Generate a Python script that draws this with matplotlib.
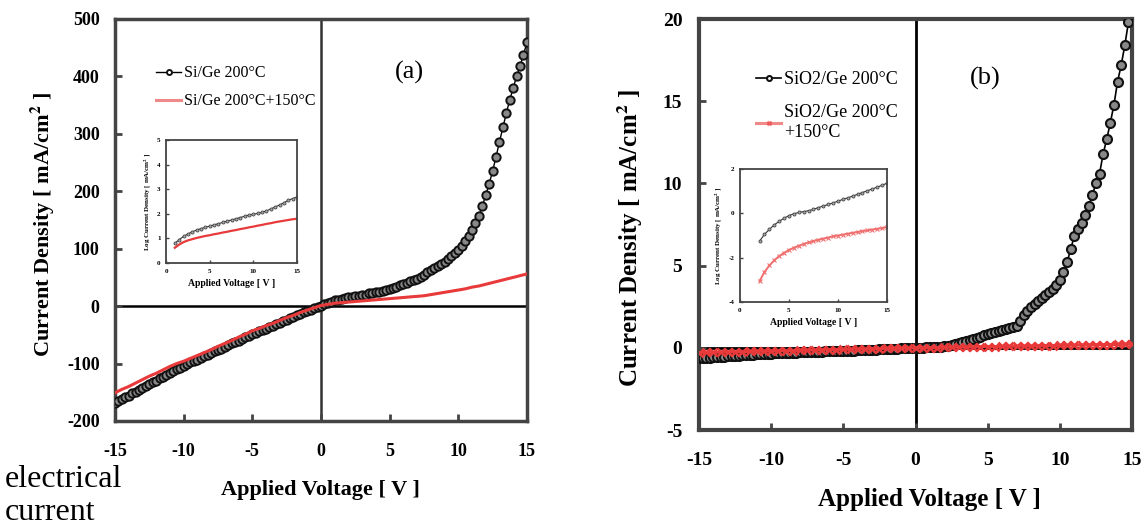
import numpy as np
import matplotlib
matplotlib.use("Agg")
import matplotlib.pyplot as plt

plt.rcParams["font.family"] = ["Liberation Serif", "DejaVu Serif"]
plt.rcParams["mathtext.fontset"] = "stix"
plt.rcParams["axes.unicode_minus"] = False

# ---- data ----
# black curves: -15 .. 15 V in 0.25 V steps, red curves: 0.5 V steps
voltage_fine = np.linspace(-15, 15, 121)
voltage = np.linspace(-15, 15, 61)

sige_200 = [-169, -166, -162, -159, -156, -152, -149, -146, -143, -139,
            -136, -133, -130, -126, -123, -120, -117, -113, -110, -107,
            -104, -101, -98, -96, -93, -90, -87, -85, -82, -79,
            -76, -74, -71, -68, -65, -63, -60, -57, -54, -52,
            -49, -46, -44, -41, -39, -36, -34, -31, -29, -26,
            -24, -21, -19, -16, -14, -11, -9, -6, -4, -1,
            1, 4, 6, 8, 10, 11, 13, 14, 15, 16,
            17, 18, 19, 20, 22, 23, 24, 25, 27, 28,
            30, 32, 34, 36, 38, 40, 43, 45, 48, 51,
            55, 59, 63, 66, 70, 73, 77, 82, 87, 92,
            98, 105, 113, 122, 133, 144, 157, 174, 193, 213,
            235, 260, 286, 311, 336, 359, 380, 400, 418, 438, 459]
sige_200_150 = [-151, -145, -140, -134, -128, -122, -117, -111, -105, -100,
                -96, -91, -86, -81, -76, -70, -65, -60, -54, -49,
                -43, -39, -34, -30, -25, -20, -16, -11, -7, -3,
                1, 3, 5, 6, 7, 8, 9, 10, 11, 12,
                13, 14, 15, 16, 17, 18, 20, 22, 24, 26,
                28, 30, 33, 35, 38, 41, 44, 47, 50, 53, 56]

sio2_200 = [-0.64, -0.62, -0.61, -0.59, -0.58, -0.56, -0.55, -0.53, -0.52, -0.50,
            -0.49, -0.47, -0.46, -0.44, -0.43, -0.41, -0.40, -0.38, -0.37, -0.36,
            -0.35, -0.34, -0.33, -0.32, -0.31, -0.30, -0.30, -0.29, -0.28, -0.27,
            -0.27, -0.26, -0.25, -0.24, -0.23, -0.22, -0.22, -0.21, -0.21, -0.20,
            -0.19, -0.18, -0.17, -0.16, -0.15, -0.14, -0.13, -0.12, -0.11, -0.10,
            -0.09, -0.08, -0.07, -0.06, -0.05, -0.04, -0.03, -0.02, -0.01, 0.00,
            0.00, 0.01, 0.02, 0.03, 0.04, 0.05, 0.07, 0.08, 0.10, 0.13,
            0.17, 0.22, 0.27, 0.33, 0.40, 0.46, 0.53, 0.60, 0.68, 0.76,
            0.84, 0.90, 0.97, 1.03, 1.10, 1.16, 1.22, 1.28, 1.35, 1.65,
            2.00, 2.25, 2.50, 2.68, 2.85, 3.02, 3.20, 3.40, 3.60, 3.85,
            4.10, 4.60, 5.20, 6.00, 6.80, 7.20, 7.60, 8.10, 8.60, 9.30,
            10.0, 10.6, 11.8, 12.7, 13.7, 14.8, 16.2, 17.2, 18.4, 19.8, 22.0]
sio2_200_150 = [-0.29, -0.28, -0.27, -0.26, -0.25, -0.24, -0.23, -0.22, -0.21, -0.20,
                -0.19, -0.18, -0.17, -0.16, -0.15, -0.14, -0.13, -0.12, -0.11, -0.10,
                -0.09, -0.08, -0.07, -0.06, -0.05, -0.04, -0.03, -0.03, -0.02, -0.01,
                0.00, 0.01, 0.02, 0.02, 0.03, 0.04, 0.05, 0.05, 0.06, 0.07,
                0.08, 0.08, 0.09, 0.10, 0.11, 0.11, 0.12, 0.13, 0.14, 0.14,
                0.15, 0.16, 0.17, 0.17, 0.18, 0.19, 0.20, 0.20, 0.21, 0.22, 0.23]

# inset (a): 1 .. 15 V, inset (b): 2 .. 15 V, 0.5 V steps
inset_a_v = np.linspace(1, 15, 29)
inset_a_black = [0.80, 0.95, 1.08, 1.18, 1.27, 1.34, 1.40, 1.45, 1.50, 1.55,
                 1.60, 1.65, 1.70, 1.75, 1.80, 1.85, 1.90, 1.95, 1.98, 2.02,
                 2.06, 2.12, 2.20, 2.28, 2.36, 2.45, 2.55, 2.62, 2.68]
inset_a_red = [0.62, 0.75, 0.85, 0.92, 0.97, 1.02, 1.06, 1.10, 1.13, 1.17,
               1.20, 1.24, 1.27, 1.31, 1.34, 1.38, 1.41, 1.45, 1.48, 1.52,
               1.55, 1.59, 1.62, 1.66, 1.69, 1.72, 1.75, 1.78, 1.80]

inset_b_v = np.linspace(2, 15, 27)
inset_b_black = [-1.25, -0.95, -0.72, -0.52, -0.36, -0.22, -0.10, -0.02, 0.04, 0.08,
                 0.12, 0.18, 0.26, 0.33, 0.40, 0.47, 0.55, 0.63, 0.70, 0.78,
                 0.86, 0.94, 1.02, 1.10, 1.18, 1.27, 1.36]
inset_b_red = [-3.05, -2.65, -2.35, -2.12, -1.93, -1.78, -1.65, -1.55, -1.46, -1.38,
               -1.31, -1.25, -1.19, -1.14, -1.09, -1.04, -1.00, -0.96, -0.92, -0.88,
               -0.84, -0.80, -0.77, -0.73, -0.70, -0.66, -0.62]

x_ticks = [-15, -10, -5, 0, 5, 10, 15]
y_ticks_a = [-200, -100, 0, 100, 200, 300, 400, 500]
y_ticks_b = [-5, 0, 5, 10, 15, 20]

RED = "#e83a3a"
SPINE = "#444444"
ylabel_text = "Current Density [ mA/cm$^{\\mathbf{2}}$ ]"


def style_main(ax, tick_size, xpad, ypad, spine_w):
    for s in ax.spines.values():
        s.set_color(SPINE)
        s.set_linewidth(spine_w)
    ax.tick_params(direction="in", length=5, width=2, color=SPINE,
                   labelsize=tick_size, top=False, right=False)
    ax.tick_params(axis="x", pad=xpad)
    ax.tick_params(axis="y", pad=ypad)
    for lab in ax.get_xticklabels() + ax.get_yticklabels():
        lab.set_fontweight("bold")


def style_inset(ax):
    for s in ax.spines.values():
        s.set_color(SPINE)
        s.set_linewidth(1.3)
    ax.tick_params(direction="in", length=2, width=1, color=SPINE,
                   labelsize=5, pad=4, top=False, right=False)
    for lab in ax.get_xticklabels() + ax.get_yticklabels():
        lab.set_fontweight("bold")


fig = plt.figure(figsize=(11.46, 5.29), dpi=100)

# ---------------- panel (a) ----------------
ax1 = fig.add_axes([0.1003, 0.2042, 0.3595, 0.760])
ax1.axhline(0, color="black", lw=1.8, zorder=1)
ax1.axvline(0, color="#333333", lw=1.8, zorder=1)
ax1.plot(voltage_fine, sige_200, color="black", lw=1, marker="o", ms=6,
         mfc="#888888", mec="#111111", mew=1.4, label="Si/Ge 200°C", zorder=3)
ax1.plot(voltage, sige_200_150, color=RED, lw=2.2, label="Si/Ge 200°C+150°C",
         zorder=4)
ax1.set_xlim(-15, 15)
ax1.set_ylim(-200, 500)
ax1.set_xticks(x_ticks)
ax1.set_yticks(y_ticks_a)
style_main(ax1, 13, 16, 11, 2.5)
ax1.set_xlabel("Applied Voltage [ V ]", fontsize=16, fontweight="bold")
ax1.set_ylabel(ylabel_text, fontsize=16, fontweight="bold")
ax1.xaxis.set_label_coords(0.4976, -0.172)
ax1.xaxis.label.set_va("center")
ax1.yaxis.set_label_coords(-0.175, 0.49)
ax1.yaxis.label.set_va("center")
ax1.text(0.715, 0.866, "(a)", transform=ax1.transAxes, fontsize=19,
         ha="center", va="center")
leg1 = ax1.legend(loc="upper left", bbox_to_anchor=(0.08, 0.905), frameon=False,
                  fontsize=11.5, handlelength=1.6, handletextpad=0.15,
                  labelspacing=0.75, borderpad=0, markerscale=0.6)
leg1.get_lines()[0].set_markerfacecolor("white")
leg1.get_lines()[1].set_alpha(0.6)

ins1 = fig.add_axes([0.1449, 0.5028, 0.1143, 0.2325])
ins1.plot(inset_a_v, inset_a_black, color="#333333", lw=0.8, marker="o", ms=2.2,
          mfc="#aaaaaa", mec="#444444", mew=0.6)
ins1.plot(inset_a_v, inset_a_red, color=RED, lw=1.6)
ins1.set_xlim(0, 15)
ins1.set_ylim(0, 5)
ins1.set_xticks([0, 5, 10, 15])
ins1.set_yticks([0, 1, 2, 3, 4, 5])
style_inset(ins1)
ins1.set_xlabel("Applied Voltage [ V ]", fontsize=7, fontweight="bold", labelpad=4)
ins1.set_ylabel("Log Current Density [ mA/cm$^{\\mathbf{2}}$ ]", fontsize=5,
                fontweight="bold", labelpad=3)

# ---------------- panel (b) ----------------
ax2 = fig.add_axes([0.610, 0.187, 0.3778, 0.777])
ax2.axhline(0, color="black", lw=2, zorder=1)
ax2.axvline(0, color="black", lw=2, zorder=1)
ax2.plot(voltage_fine, sio2_200, color="black", lw=1.2, marker="o", ms=6.5,
         mfc="#888888", mec="#111111", mew=1.5, label="SiO2/Ge 200°C", zorder=3)
ax2.plot(voltage, sio2_200_150, color=RED, lw=2.2, marker="x", ms=6, mew=1.8,
         label="SiO2/Ge 200°C\n+150°C", zorder=4)
ax2.set_xlim(-15, 15)
ax2.set_ylim(-5, 20)
ax2.set_xticks(x_ticks)
ax2.set_yticks(y_ticks_b)
style_main(ax2, 14, 16, 12, 3)
ax2.set_xlabel("Applied Voltage [ V ]", fontsize=18, fontweight="bold")
ax2.set_ylabel(ylabel_text, fontsize=18, fontweight="bold")
ax2.xaxis.set_label_coords(0.533, -0.170)
ax2.xaxis.label.set_va("center")
ax2.yaxis.set_label_coords(-0.159, 0.467)
ax2.yaxis.label.set_va("center")
ax2.text(0.66, 0.855, "(b)", transform=ax2.transAxes, fontsize=19,
         ha="center", va="center")
leg2 = ax2.legend(loc="upper left", bbox_to_anchor=(0.111, 0.895), frameon=False,
                  fontsize=13, handlelength=1.4, handletextpad=0.15,
                  labelspacing=0.9, borderpad=0, markerscale=0.55)
leg2.get_lines()[0].set_markerfacecolor("white")
leg2.get_lines()[1].set_alpha(0.6)

ins2 = fig.add_axes([0.6457, 0.4291, 0.1283, 0.2514])
ins2.plot(inset_b_v, inset_b_black, color="#333333", lw=0.8, marker="o", ms=2.2,
          mfc="#aaaaaa", mec="#444444", mew=0.6)
ins2.plot(inset_b_v, inset_b_red, color="#f07070", lw=1.4, marker="x", ms=2.5,
          mew=0.8)
ins2.set_xlim(0, 15)
ins2.set_ylim(-4, 2)
ins2.set_xticks([0, 5, 10, 15])
ins2.set_yticks([-4, -2, 0, 2])
style_inset(ins2)
ins2.set_xlabel("Applied Voltage [ V ]", fontsize=7, fontweight="bold", labelpad=4)
ins2.set_ylabel("Log Current Density [ mA/cm$^{\\mathbf{2}}$ ]", fontsize=5,
                fontweight="bold", labelpad=3)

fig.text(0.004, 0.0624, "electrical\ncurrent", fontsize=23, ha="left",
         va="center", linespacing=1.15)

fig.savefig("out.png", dpi=100)
